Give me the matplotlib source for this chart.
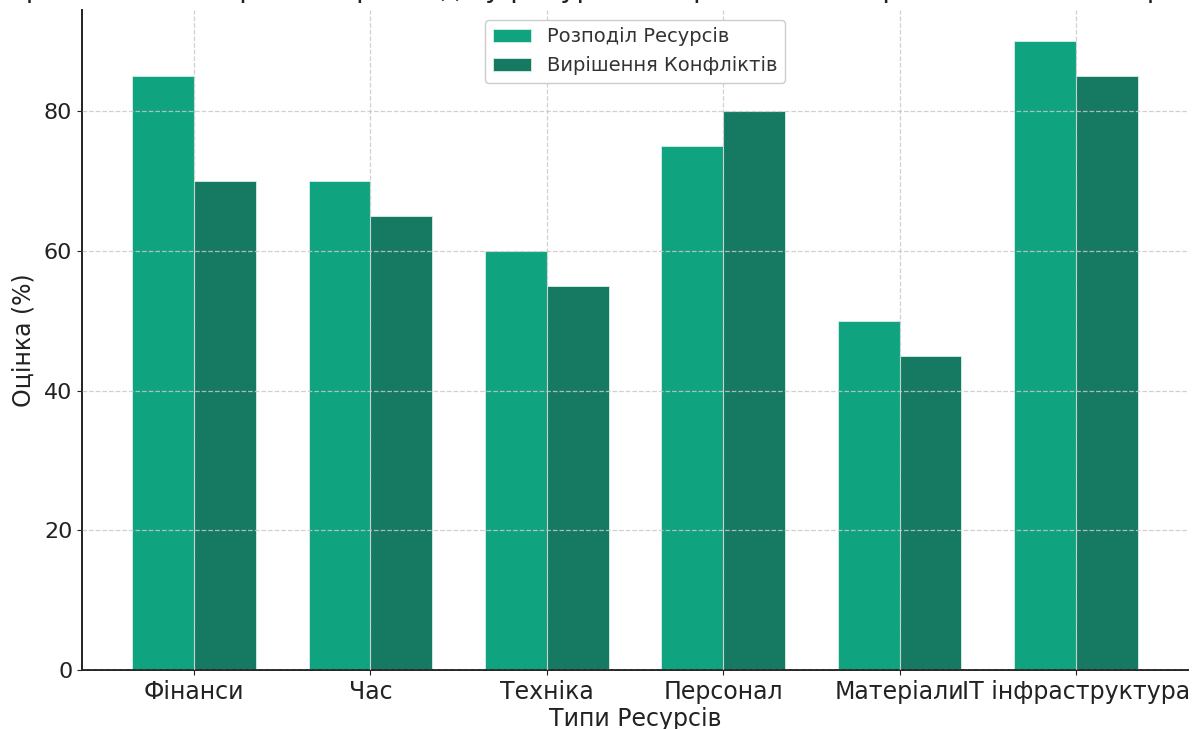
import numpy as np
import matplotlib
matplotlib.use('Agg')
import matplotlib.pyplot as plt

# Типи ресурсів та оцінки (%)
категорії = ['Фінанси', 'Час', 'Техніка', 'Персонал', 'Матеріали', 'IT інфраструктура']
розподіл = [85, 70, 60, 75, 50, 90]
конфлікти = [70, 65, 55, 80, 45, 85]

plt.rcParams['font.family'] = ['DejaVu Sans']
plt.rcParams['text.color'] = '#222222'
plt.rcParams['axes.labelcolor'] = '#222222'
plt.rcParams['xtick.color'] = '#222222'
plt.rcParams['ytick.color'] = '#222222'

fig = plt.figure(figsize=(11.92, 7.29), dpi=100)
ax = fig.add_axes([0.0688, 0.0809, 0.9278, 0.9054])

x = np.arange(len(категорії))
ширина = 0.35

ax.bar(x - ширина / 2, розподіл, ширина, color='#10a37f', edgecolor='#d8efe8',
       linewidth=0.6, label='Розподіл Ресурсів')
ax.bar(x + ширина / 2, конфлікти, ширина, color='#157a61', edgecolor='#d8efe8',
       linewidth=0.6, label='Вирішення Конфліктів')

ax.set_xticks(x)
ax.set_xticklabels(категорії, fontsize=17)
ax.tick_params(axis='y', labelsize=16)
ax.set_yticks([0, 20, 40, 60, 80])
ax.set_xlabel('Типи Ресурсів', fontsize=17, labelpad=2)
ax.set_ylabel('Оцінка (%)', fontsize=17, labelpad=6)

ax.grid(True, linestyle='--', color='#c8c8c8', linewidth=0.9, alpha=0.85)
ax.set_axisbelow(False)

for s in ['top', 'right']:
    ax.spines[s].set_visible(False)
for s in ['left', 'bottom']:
    ax.spines[s].set_linewidth(1.4)
    ax.spines[s].set_color('#222222')

# заголовок виходить за верхній край полотна
ax.set_title('Ефективність стратегій розподілу ресурсів і вирішення конфліктів за типами ресурсів',
             fontsize=20, pad=9.5)

leg = ax.legend(loc='upper center', fontsize=14, frameon=True, framealpha=1,
                edgecolor='#cccccc', bbox_to_anchor=(0.5, 1.0))
for t in leg.get_texts():
    t.set_color('#333333')

fig.savefig('out.png', dpi=100)
